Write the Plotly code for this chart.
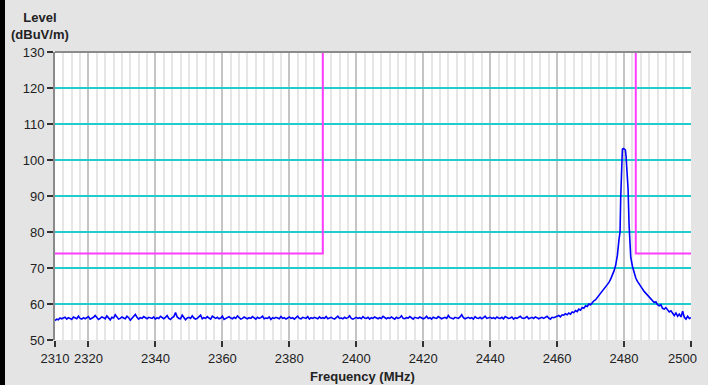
import plotly.graph_objects as go

# ---- data ----
noise_start = 2310.0
noise_step = 0.5
noise_level = [
    55.4, 55.8, 55.6, 56.1, 55.9, 56.0, 56.3, 55.8, 56.2, 56.0, 55.7, 56.4, 56.1, 55.9, 56.6, 56.0, 55.8, 56.2, 55.9, 56.1,
    56.5, 55.8, 56.0, 56.3, 56.8, 56.1, 55.7, 56.0, 56.4, 56.2, 55.9, 56.7, 56.0, 55.6, 56.3, 56.1, 57.0, 56.2, 55.8, 56.0,
    56.4, 56.1, 55.9, 56.6, 56.2, 55.5, 56.0, 56.8, 57.1, 56.3, 55.8, 56.2, 56.0, 56.5, 56.1, 55.9, 56.3, 56.2, 56.0, 56.4,
    55.8, 56.2, 56.0, 56.6, 56.1, 55.9, 56.3, 56.8, 56.0, 55.7, 56.2, 56.5, 57.6, 56.4, 56.0, 55.9, 56.9, 56.2, 55.6, 56.1,
    56.3, 56.0, 56.7, 56.1, 55.8, 56.0, 56.4, 56.9, 55.9, 56.2, 56.0, 56.5, 56.1, 55.8, 56.6, 56.2, 56.0, 56.3, 55.9, 56.1,
    56.6, 55.7, 56.0, 56.2, 56.5, 56.1, 55.9, 56.3, 56.0, 56.7, 56.2, 55.8, 56.0, 56.4, 56.1, 55.9, 56.2, 56.0, 56.5, 56.1,
    55.8, 56.3, 56.0, 56.2, 56.6, 55.9, 56.1, 56.0, 56.4, 55.7, 56.2, 56.0, 56.3, 56.1, 55.9, 56.5, 56.0, 56.2, 55.8, 56.1,
    56.4, 56.0, 56.2, 55.8, 56.1, 56.6, 56.0, 55.9, 56.3, 56.1, 56.0, 56.5, 55.8, 56.2, 56.0, 56.3, 56.1, 55.9, 56.4, 56.0,
    56.2, 56.0, 56.5, 55.9, 56.1, 56.3, 56.0, 55.8, 56.2, 56.6, 56.0, 56.1, 55.9, 56.3, 56.0, 56.2, 56.7, 56.0, 55.8, 56.1,
    56.3, 56.0, 56.2, 55.9, 56.5, 56.1, 56.0, 56.3, 55.8, 56.2, 56.0, 56.4, 56.1, 55.9, 56.2, 56.0, 56.6, 56.1, 55.9, 56.2,
    56.0, 56.4, 56.1, 55.8, 56.3, 56.0, 56.2, 56.7, 56.0, 55.9, 56.2, 56.1, 56.5, 56.0, 55.8, 56.3, 56.1, 56.0, 56.4, 56.2,
    55.9, 56.1, 56.6, 56.0, 56.2, 55.8, 56.3, 56.1, 56.0, 56.5, 56.2, 55.9, 56.1, 56.3, 56.0, 56.8, 56.2, 56.0, 55.9, 56.3,
    56.1, 56.0, 56.4, 57.0, 56.2, 55.9, 56.1, 56.3, 56.0, 56.2, 55.8, 56.5, 56.1, 56.0, 56.3, 55.9, 56.2, 56.6, 56.0, 56.1,
    56.3, 56.0, 56.2, 55.9, 56.4, 56.1, 56.0, 56.3, 55.9, 56.5, 56.2, 56.0, 56.1, 56.4, 55.8, 56.2, 56.0, 56.3, 56.6, 56.1,
    56.0, 56.2, 56.5, 55.9, 56.1, 56.3, 56.0, 56.4, 56.2, 55.9, 56.1, 56.3, 56.0, 56.2, 56.6, 56.1, 55.8, 56.3, 56.2, 56.4,
    56.5, 56.8, 56.4, 57.0, 56.9, 57.3, 57.0, 57.5, 57.2, 57.8,
    57.6, 58.2, 57.9, 58.6, 58.3, 59.0, 58.8, 59.5, 59.3, 60.0,
    59.8, 60.5, 60.9, 61.2, 61.8, 62.2, 62.8, 63.3, 64.0, 64.6,
    65.2, 66.0, 66.9, 68.0, 69.2, 70.8, 73.5, 78.0,
]
peak_freq = [2478.8, 2479.0, 2479.3, 2479.5, 2479.8, 2480.1, 2480.4, 2480.6, 2480.9,
             2481.2, 2481.5, 2481.8, 2482.0]
peak_level = [80.0, 89.5, 96.0, 103.0, 103.2, 103.0, 102.8, 101.0, 96.5,
              92.0, 82.0, 76.0, 73.0]
tail_freq = [2482.5, 2483.0, 2483.5, 2484.0, 2484.5, 2485.0, 2485.5, 2486.0, 2486.5, 2487.0,
             2487.5, 2488.0, 2488.5, 2489.0, 2489.5, 2490.0, 2490.5, 2491.0, 2491.5, 2492.0,
             2492.5, 2493.0, 2493.5, 2494.0, 2494.5, 2495.0, 2495.5, 2496.0, 2496.5, 2497.0,
             2497.5, 2498.0, 2498.5, 2499.0, 2499.5, 2500.0]
tail_level = [70.5, 68.5, 67.2, 66.3, 65.5, 64.6, 64.2, 63.5, 63.0, 62.3,
              61.9, 61.2, 61.0, 60.4, 60.6, 59.8, 59.5, 59.8, 58.8, 58.6,
              59.0, 58.2, 57.8, 58.1, 57.3, 56.8, 57.5, 56.6, 57.2, 56.4,
              58.0, 56.3, 55.8, 56.6, 56.0, 56.2]

limit1_freq = [2310, 2390, 2390]
limit1_level = [74, 74, 130]
limit2_freq = [2483.5, 2483.5, 2500]
limit2_level = [130, 74, 74]

x_tickvals = [2310, 2320, 2340, 2360, 2380, 2400, 2420, 2440, 2460, 2480, 2500]
y_tickvals = [50, 60, 70, 80, 90, 100, 110, 120, 130]

# ---- build trace ----
freq = [noise_start + noise_step * i for i in range(len(noise_level))] + peak_freq + tail_freq
level = noise_level + peak_level + tail_level

MAGENTA = "#ff3cff"
fig = go.Figure()
fig.add_trace(go.Scatter(x=limit1_freq, y=limit1_level, mode="lines",
                         line=dict(color=MAGENTA, width=2), hoverinfo="skip"))
fig.add_trace(go.Scatter(x=limit2_freq, y=limit2_level, mode="lines",
                         line=dict(color=MAGENTA, width=2), hoverinfo="skip"))
fig.add_trace(go.Scatter(x=freq, y=level, mode="lines",
                         line=dict(color="#0000ff", width=1.6)))

font = dict(family="Liberation Sans, Arial, sans-serif", size=13, color="#222222")

W, H = 700, 385
L, R, T, B = 55, 9, 52, 45
PW, PH = W - L - R, H - T - B

# the last tick label would overflow the page edge, so it is drawn as an annotation
x_ticktext = [str(v) if v != x_tickvals[-1] else "" for v in x_tickvals]

fig.update_layout(
    width=W, height=H, autosize=False,
    margin=dict(l=L, r=R, t=T, b=B),
    paper_bgcolor="#e4e4e4",
    plot_bgcolor="#ffffff",
    showlegend=False,
    font=font,
    xaxis=dict(
        range=[2310, 2500], tickvals=x_tickvals, ticktext=x_ticktext,
        showgrid=True, gridcolor="#c4c4c4", gridwidth=2,
        minor=dict(tick0=2310, dtick=2.5, showgrid=True, gridcolor="#e6e6e6", gridwidth=2),
        ticks="outside", ticklen=6, tickwidth=2, tickcolor="#333333",
        showline=False, zeroline=False, tickfont=font,
    ),
    yaxis=dict(
        range=[50, 130], tickvals=y_tickvals,
        showgrid=True, gridcolor="#22cccc", gridwidth=2,
        ticks="outside", ticklen=6, tickwidth=2, tickcolor="#333333",
        showline=True, linecolor="#8a8a8a", linewidth=2,
        zeroline=False, tickfont=font,
    ),
    shapes=[
        dict(type="line", xref="paper", yref="paper", x0=0, x1=1, y0=1, y1=1,
             line=dict(color="#8a8a8a", width=2)),
    ],
    annotations=[
        dict(text="<b>Level</b><br><b>(dBuV/m)</b>", xref="paper", yref="paper",
             x=(40 - L) / PW, y=(PH + T - 8) / PH, xanchor="center", yanchor="top",
             showarrow=False, align="center", font=font),
        dict(text="<b>Frequency (MHz)</b>", xref="paper", yref="paper",
             x=(362 - L) / PW, y=-(376 - (T + PH)) / PH, xanchor="center", yanchor="middle",
             showarrow=False, font=font),
        dict(text=str(x_tickvals[-1]), xref="paper", yref="paper",
             x=(W - 1 - L) / PW, y=-(358 - (T + PH)) / PH, xanchor="right", yanchor="middle",
             showarrow=False, font=font),
    ],
)

fig.write_html(
    "out.html",
    config={"responsive": False, "displayModeBar": False},
    post_script=(
        "document.documentElement.style.overflow='hidden';"
        "document.body.style.overflow='hidden';"
        "document.body.style.margin='0px';"
        "document.body.style.background='#e4e4e4';"
        "var edge=document.createElement('div');"
        "edge.style.cssText='position:fixed;left:0;top:0;width:5px;height:100%;"
        "background:#000;z-index:10;pointer-events:none;';"
        "document.body.appendChild(edge);"
    ),
)
